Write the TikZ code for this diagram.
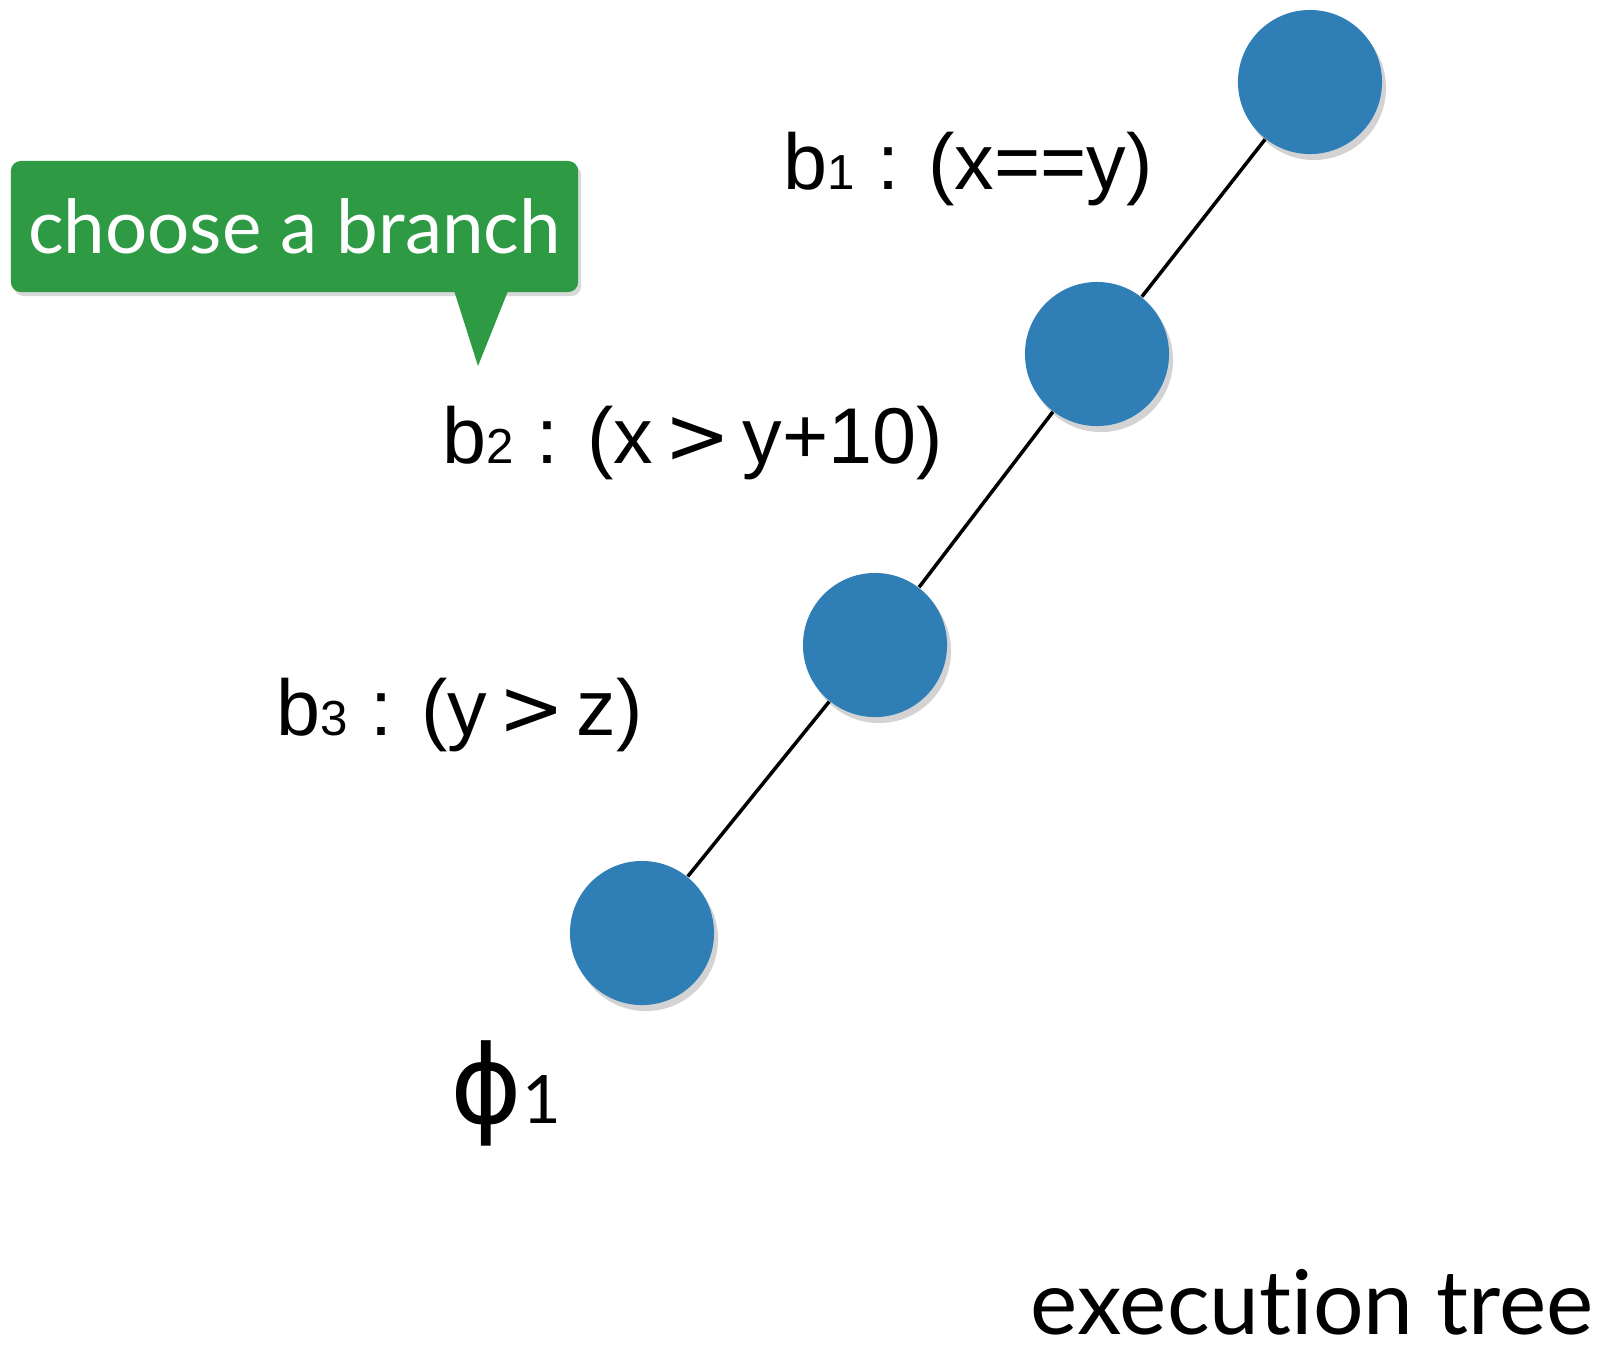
\documentclass[tikz,border=0pt]{standalone}
\usepackage{fontspec}
\setmainfont{Lato}[Ligatures=NoCommon]
\newfontfamily\etCondFont{Liberation Sans}
\newfontfamily\etSymFont{DejaVu Sans}
\usetikzlibrary{calc,positioning,shadows}
\definecolor{ETBlue}{HTML}{2F7EB6}
\definecolor{ETGreen}{HTML}{2F9A44}
\newcommand{\etIdx}[1]{{\fontsize{14pt}{14pt}\selectfont #1}}
\newcommand{\etGt}{\hspace{3.3pt}{\etSymFont >}\hspace{3.3pt}}
\tikzset{
  etNode/.style={
    circle,
    fill=ETBlue,
    minimum size=1.44cm,
    inner sep=0pt,
    drop shadow={opacity=0.35, shadow xshift=0.4mm, shadow yshift=-0.6mm}
  },
  etEdge/.style={
    line width=1pt,
    black
  },
  etLabel/.style={
    font=\etCondFont\fontsize{22.5pt}{26pt}\selectfont,
    anchor=base west,
    inner sep=0pt
  },
  etCallout/.style={
    fill=ETGreen,
    text=white,
    rounded corners=0.1cm,
    minimum width=5.67cm,
    minimum height=1.31cm,
    inner sep=0pt,
    font=\fontsize{21.2pt}{26pt}\selectfont,
    drop shadow={opacity=0.3, shadow xshift=0.3mm, shadow yshift=-0.4mm}
  }
}
\begin{document}
\begin{tikzpicture}[x=0.01cm, y=-0.01cm]
  \useasboundingbox (0,0) rectangle (1605,1350);

  \node (n1) [etNode] at (1310,82) {};
  \node (n2) [etNode] at (1097,354) {};
  \node (n3) [etNode] at (875,645) {};
  \node (n4) [etNode] at (642,933) {};

  \draw [etEdge] (n1) -- (n2);
  \draw [etEdge] (n2) -- (n3);
  \draw [etEdge] (n3) -- (n4);

  \node (b1) [etLabel] at (783,189) {b\etIdx{1} : (x==y)};
  \node (b2) [etLabel] at (442,463) {b\etIdx{2} : (x\etGt{}y+10)};
  \node (b3) [etLabel] at (276,735) {b\etIdx{3} : (y\etGt{}z)};

  \node (phi) [etLabel, font=\fontsize{31pt}{34pt}\selectfont] at (450,1123) {{\etSymFont ϕ}{\fontsize{19pt}{19pt}\selectfont 1}};
  \node (tree) [etLabel, font=\fontsize{25.4pt}{30pt}\selectfont] at (1030,1334) {execution tree};

  \node (callout) [etCallout] at (294.5,226.5) {choose a branch};
  \coordinate (tip) at (478,366);
  \fill [ETGreen] ($(callout.south west)+(444,-2)$) -- (tip) -- ($(callout.south west)+(498,-2)$) -- cycle;
\end{tikzpicture}
\end{document}
